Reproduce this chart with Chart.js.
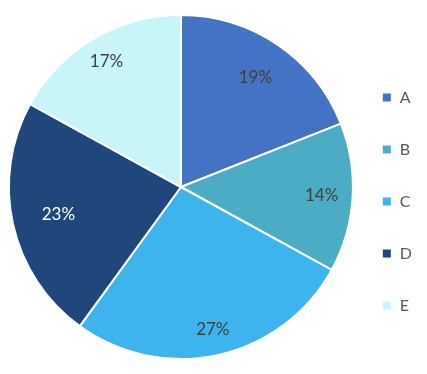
<!DOCTYPE html>
<html lang="en">
<head>
    <meta charset="UTF-8">
    <title>Pie</title>
    <script src="https://cdn.jsdelivr.net/npm/chart.js"></script>
    <style>
        html, body { margin: 0; padding: 0; background: #fff; }
        .wrap { width: 427px; height: 374px; }
    </style>
</head>
<body>
    <div class="wrap">
        <canvas id="pieChart" width="427" height="374"></canvas>
    </div>

    <script>
        const categories = ['A', 'B', 'C', 'D', 'E'];
        const shares = [19, 14, 27, 23, 17];
        const sliceColors = ['#4472C4', '#4BACC6', '#3DB4EE', '#1F477C', '#C8F5F8'];
        const labelColors = ['#404040', '#404040', '#404040', '#ffffff', '#404040'];

        // percent labels inside the slices (radial position as share of radius)
        const labelDepth = [0.77, 0.82, 0.85, 0.73, 0.85];
        const sliceLabels = {
            id: 'sliceLabels',
            afterDatasetsDraw(chart) {
                const ctx = chart.ctx;
                const meta = chart.getDatasetMeta(0);
                ctx.save();
                ctx.font = '17px Lato, "Open Sans", sans-serif';
                ctx.textAlign = 'center';
                ctx.textBaseline = 'middle';
                meta.data.forEach((arc, i) => {
                    const mid = (arc.startAngle + arc.endAngle) / 2;
                    const r = arc.outerRadius * labelDepth[i];
                    ctx.fillStyle = labelColors[i];
                    ctx.fillText(shares[i] + '%', arc.x + Math.cos(mid) * r, arc.y + Math.sin(mid) * r);
                });
                ctx.restore();
            }
        };

        new Chart(document.getElementById('pieChart'), {
            type: 'pie',
            data: {
                labels: categories,
                datasets: [{
                    data: shares,
                    backgroundColor: sliceColors,
                    borderColor: '#ffffff',
                    borderWidth: 2,
                    radius: 172
                }]
            },
            options: {
                responsive: false,
                animation: false,
                layout: { padding: { top: 15, bottom: 15, left: 16, right: 5 } },
                plugins: {
                    tooltip: { enabled: false },
                    legend: {
                        position: 'right',
                        maxWidth: 81,
                        title: { display: true, text: ' ', padding: 6, font: { size: 14 } },
                        labels: {
                            boxWidth: 10,
                            boxHeight: 10,
                            padding: 36,
                            color: '#595959',
                            font: { size: 16, family: 'Lato, "Open Sans", sans-serif' }
                        }
                    }
                }
            },
            plugins: [sliceLabels]
        });
    </script>
</body>
</html>
